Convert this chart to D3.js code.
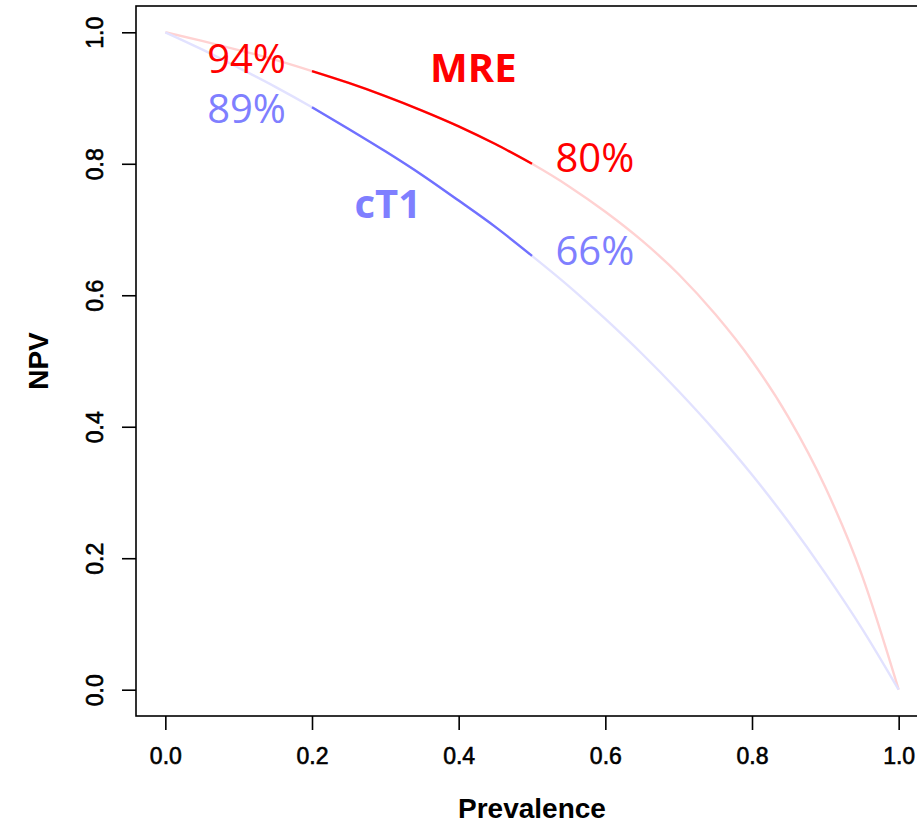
<!DOCTYPE html>
<html>
<head>
<meta charset="utf-8">
<script src="https://cdn.jsdelivr.net/npm/d3@7"></script>
<style>
  html, body { margin: 0; padding: 0; background: #fff; }
  svg { display: block; }
</style>
</head>
<body>
<svg id="chart" width="917" height="823"></svg>
<script>
// Prevalence grid and negative predictive value of each test
const prevalence = [0, 0.05, 0.1, 0.15, 0.2, 0.25, 0.3, 0.35, 0.4, 0.45, 0.5,
                    0.55, 0.6, 0.65, 0.7, 0.75, 0.8, 0.85, 0.9, 0.95, 1.0];
const npvMRE = [1.000, 0.987, 0.973, 0.958, 0.941, 0.923, 0.903, 0.881, 0.857, 0.830, 0.800,
                0.766, 0.727, 0.683, 0.632, 0.571, 0.500, 0.414, 0.308, 0.174, 0.000];
const npvCT1 = [1.000, 0.974, 0.946, 0.917, 0.886, 0.853, 0.819, 0.783, 0.744, 0.704, 0.660,
                0.614, 0.564, 0.511, 0.454, 0.393, 0.327, 0.255, 0.177, 0.093, 0.000];

// Prevalence range of clinical interest (drawn in full colour)
const focusRange = [0.2, 0.5];

const xTicks = [0, 0.2, 0.4, 0.6, 0.8, 1.0];
const yTicks = [0, 0.2, 0.4, 0.6, 0.8, 1.0];

// Annotations: value labels at the edges of the focus range, plus series names
const annotations = [
  { text: "94%", x: 0.057, y: 0.938, series: "MRE", bold: false },
  { text: "80%", x: 0.532, y: 0.787, series: "MRE", bold: false },
  { text: "89%", x: 0.057, y: 0.862, series: "cT1", bold: false },
  { text: "66%", x: 0.532, y: 0.646, series: "cT1", bold: false },
  { text: "MRE", x: 0.361, y: 0.924, series: "MRE", bold: true },
  { text: "cT1", x: 0.258, y: 0.717, series: "cT1", bold: true }
];

const colors = {
  MRE: { strong: "#ff0000", faint: "#ffd2d2", text: "#ff0000" },
  cT1: { strong: "#7070ff", faint: "#e2e2ff", text: "#7f7fff" }
};

const series = [
  { name: "MRE", values: npvMRE },
  { name: "cT1", values: npvCT1 }
];

const svg = d3.select("#chart");

// Plot region in R style: data range padded by 4% on each side
const plot = { left: 136, right: 928, top: 6, bottom: 716 };
const pad = 0.04;
const x = d3.scaleLinear()
  .domain([0 - pad, 1 + pad])
  .range([plot.left, plot.right]);
const y = d3.scaleLinear()
  .domain([0 - pad, 1 + pad])
  .range([plot.bottom, plot.top]);

const line = d3.line()
  .x(d => x(d.p))
  .y(d => y(d.v))
  .curve(d3.curveMonotoneX);

const g = svg.append("g");

// Faint full curves first, then the focus segment on top
series.forEach(s => {
  const pts = prevalence.map((p, i) => ({ p, v: s.values[i] }));
  g.append("path")
    .datum(pts)
    .attr("fill", "none")
    .attr("stroke", colors[s.name].faint)
    .attr("stroke-width", 2.4)
    .attr("d", line);
});
series.forEach(s => {
  const pts = prevalence.map((p, i) => ({ p, v: s.values[i] }))
    .filter(d => d.p >= focusRange[0] - 1e-9 && d.p <= focusRange[1] + 1e-9);
  g.append("path")
    .datum(pts)
    .attr("fill", "none")
    .attr("stroke", colors[s.name].strong)
    .attr("stroke-width", 2.4)
    .attr("d", line);
});

// Box around the plot region
svg.append("rect")
  .attr("x", plot.left)
  .attr("y", plot.top)
  .attr("width", plot.right - plot.left)
  .attr("height", plot.bottom - plot.top)
  .attr("fill", "none")
  .attr("stroke", "#000")
  .attr("stroke-width", 1.6);

// Axes
const axisFont = "'Liberation Sans', Arial, sans-serif";
const xAxis = d3.axisBottom(x)
  .tickValues(xTicks)
  .tickFormat(d3.format(".1f"))
  .tickSize(14)
  .tickSizeOuter(0)
  .tickPadding(18);
const xg = svg.append("g")
  .attr("transform", `translate(0,${plot.bottom})`)
  .call(xAxis);
xg.select(".domain").remove();
xg.selectAll("line").attr("stroke", "#000").attr("stroke-width", 1.6);
xg.selectAll("text")
  .attr("font-family", axisFont)
  .attr("font-size", 23)
  .attr("fill", "#000")
  .attr("stroke", "#000")
  .attr("stroke-width", 0.6);

const yAxis = d3.axisLeft(y)
  .tickValues(yTicks)
  .tickFormat(d3.format(".1f"))
  .tickSize(14)
  .tickSizeOuter(0);
const yg = svg.append("g")
  .attr("transform", `translate(${plot.left},0)`)
  .call(yAxis);
yg.select(".domain").remove();
yg.selectAll("line").attr("stroke", "#000").attr("stroke-width", 1.6);
yg.selectAll("text")
  .attr("font-family", axisFont)
  .attr("font-size", 23)
  .attr("fill", "#000")
  .attr("stroke", "#000")
  .attr("stroke-width", 0.6)
  .attr("text-anchor", "middle")
  .attr("dy", null)
  .attr("x", null)
  .attr("transform", "translate(-33,0) rotate(-90)");

// Axis titles
svg.append("text")
  .attr("x", (plot.left + plot.right) / 2)
  .attr("y", 818)
  .attr("text-anchor", "middle")
  .attr("font-family", axisFont)
  .attr("font-weight", "bold")
  .attr("font-size", 28)
  .text("Prevalence");

svg.append("text")
  .attr("transform", `translate(48,${(plot.top + plot.bottom) / 2}) rotate(-90)`)
  .attr("text-anchor", "middle")
  .attr("font-family", axisFont)
  .attr("font-weight", "bold")
  .attr("font-size", 28)
  .text("NPV");

// Annotations
svg.append("g")
  .selectAll("text")
  .data(annotations)
  .join("text")
  .attr("x", d => x(d.x))
  .attr("y", d => y(d.y))
  .attr("font-family", "'Open Sans', 'Noto Sans', sans-serif")
  .attr("font-weight", d => d.bold ? "bold" : "normal")
  .attr("font-size", d => d.bold ? 40 : 40)
  .attr("fill", d => colors[d.series].text)
  .text(d => d.text);
</script>
</body>
</html>
